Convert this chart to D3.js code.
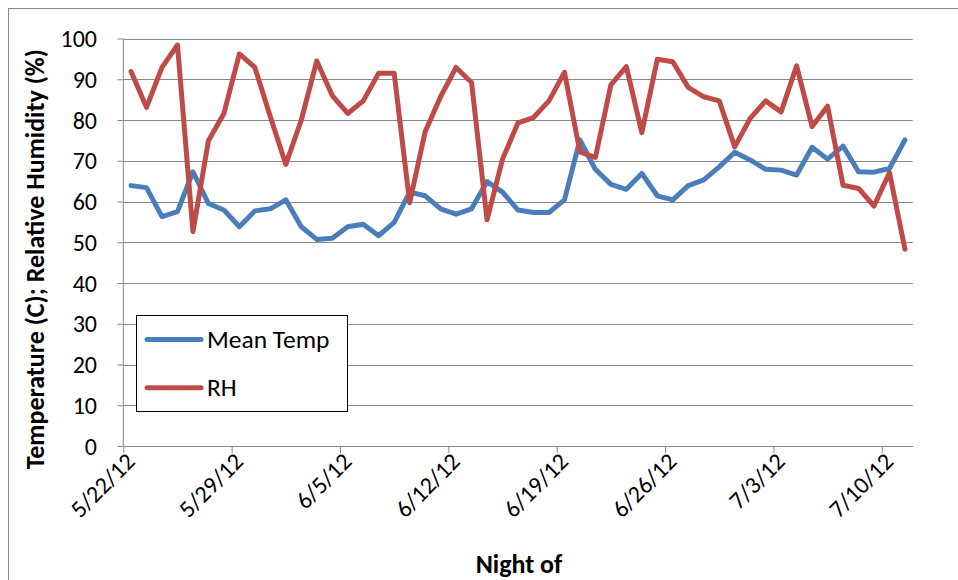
<!DOCTYPE html>
<html>
<head>
<meta charset="utf-8">
<script src="https://cdn.jsdelivr.net/npm/d3@7"></script>
<style>
    body { margin: 0; background: #fff; }
    svg { display: block; font-family: Calibri, Carlito, Lato, sans-serif; }
    .grid line { stroke: #888; stroke-width: 1; }
    .tick-label { font-size: 24px; fill: #000; }
    .legend-label { font-size: 25.5px; fill: #000; }
    .axis-title { font-size: 26px; font-weight: bold; fill: #000; }
    .series { fill: none; stroke-width: 5; stroke-linejoin: round; stroke-linecap: round; }
</style>
</head>
<body>
<svg width="958" height="580"></svg>
<script>
'use strict';

///////////////////////////// data ///////////////////////////
var START_DATE = '5/22/12';
var END_DATE = '7/12/12'; // axis ends after the last night
var TICK_LABELS = ['5/22/12', '5/29/12', '6/5/12', '6/12/12', '6/19/12', '6/26/12', '7/3/12', '7/10/12'];
var Y_TICKS = [0, 10, 20, 30, 40, 50, 60, 70, 80, 90, 100];
var SERIES_NAMES = ['Mean Temp', 'RH'];

// one value per night, 5/22/12 .. 7/11/12
var meanTemp = [63.9, 63.4, 56.3, 57.5, 67.3, 59.5, 57.9, 53.8, 57.7, 58.2,
                60.4, 53.8, 50.7, 51.0, 53.8, 54.4, 51.6, 54.9, 62.3, 61.4,
                58.2, 56.9, 58.2, 64.9, 62.3, 57.9, 57.3, 57.3, 60.4, 75.1,
                67.9, 64.2, 63.0, 66.9, 61.4, 60.4, 63.9, 65.3, 68.5, 72.1,
                70.2, 67.9, 67.7, 66.5, 73.3, 70.4, 73.6, 67.3, 67.2, 68.1, 75.1];
var rh = [91.9, 83.1, 92.9, 98.4, 52.6, 74.9, 81.6, 96.2, 92.9, 80.8,
          69.1, 80.0, 94.5, 86.0, 81.6, 84.7, 91.5, 91.5, 59.7, 77.1,
          85.7, 92.9, 89.2, 55.5, 70.4, 79.3, 80.6, 84.7, 91.7, 72.2,
          70.8, 88.6, 93.1, 76.9, 94.9, 94.3, 88.0, 85.7, 84.7, 73.4,
          80.4, 84.7, 82.0, 93.3, 78.4, 83.4, 64.0, 63.2, 58.9, 67.1, 48.3];
var COLORS = ['#4A7EBB', '#BE4B48'];

///////////////////////////// set up ///////////////////////////
var svg = d3.select('svg');
var plot = {left: 123.3, right: 912.7, top: 38.5, bottom: 446};
var parseDate = d3.timeParse('%m/%d/%y');
var fmt = d3.timeFormat('%-m/%-d/%y');

var x = d3.scaleTime()
    .domain([parseDate(START_DATE), parseDate(END_DATE)])
    .range([plot.left, plot.right]);
var y = d3.scaleLinear()
    .domain([0, 100])
    .range([plot.bottom, plot.top]);

// nights, plotted at the middle of each day
var nights = meanTemp.map(function(d, i) {
    return d3.timeHour.offset(d3.timeDay.offset(parseDate(START_DATE), i), 12);
});
var series = [meanTemp, rh].map(function(vals, k) {
    return {
        name: SERIES_NAMES[k],
        color: COLORS[k],
        values: vals.map(function(v, i) { return {date: nights[i], value: v}; })
    };
});

// chart border (only top and left are in frame)
svg.append('rect')
    .attr('x', 8.5).attr('y', 8.5)
    .attr('width', 1000).attr('height', 1000)
    .attr('fill', 'none')
    .attr('stroke', '#888');

// gridlines
svg.append('g').attr('class', 'grid')
    .selectAll('line')
    .data(Y_TICKS.slice(1))
    .enter().append('line')
    .attr('x1', plot.left).attr('x2', plot.right)
    .attr('y1', function(d) { return Math.round(y(d)) + 0.5; })
    .attr('y2', function(d) { return Math.round(y(d)) + 0.5; });

// y axis
var yAxis = svg.append('g')
    .attr('transform', 'translate(' + plot.left + ',0)')
    .call(d3.axisLeft(y).tickValues(Y_TICKS).tickSize(6).tickFormat(''));
yAxis.selectAll('line, path').attr('stroke', '#888');
yAxis.select('.domain').attr('d', 'M0,' + plot.top + 'V' + plot.bottom);

svg.append('g').selectAll('text')
    .data(Y_TICKS)
    .enter().append('text')
    .attr('class', 'tick-label')
    .attr('text-anchor', 'end')
    .attr('x', 97)
    .attr('y', function(d) { return y(d) + 8.5; })
    .text(function(d) { return d; });

// x axis
var tickDates = TICK_LABELS.map(parseDate);
var xAxis = svg.append('g')
    .attr('transform', 'translate(0,' + plot.bottom + ')')
    .call(d3.axisBottom(x).tickValues(tickDates).tickSize(7).tickSizeOuter(0).tickFormat(''));
xAxis.selectAll('line, path').attr('stroke', '#888');

svg.append('g').selectAll('text')
    .data(tickDates)
    .enter().append('text')
    .attr('class', 'tick-label')
    .attr('text-anchor', 'end')
    .attr('transform', function(d) {
        return 'translate(' + (x(d) + 13) + ',' + (plot.bottom + 17) + ') rotate(-45)';
    })
    .text(function(d) { return fmt(d); });

// axis titles
svg.append('text')
    .attr('class', 'axis-title')
    .attr('text-anchor', 'middle')
    .attr('transform', 'translate(44,' + ((plot.top + plot.bottom) / 2 + 17) + ') rotate(-90)')
    .text('Temperature (C); Relative Humidity (%)');
svg.append('text')
    .attr('class', 'axis-title')
    .attr('text-anchor', 'middle')
    .attr('x', 519)
    .attr('y', 573)
    .text('Night of');

// lines
var line = d3.line()
    .x(function(d) { return x(d.date); })
    .y(function(d) { return y(d.value); });

svg.append('g').selectAll('path')
    .data(series)
    .enter().append('path')
    .attr('class', 'series')
    .attr('stroke', function(d) { return d.color; })
    .attr('d', function(d) { return line(d.values); });

// legend
var legend = svg.append('g');
legend.append('rect')
    .attr('x', 136.5).attr('y', 315.5)
    .attr('width', 211).attr('height', 96)
    .attr('fill', '#fff')
    .attr('stroke', '#000');
var items = legend.selectAll('.item')
    .data(series)
    .enter().append('g')
    .attr('class', 'item')
    .attr('transform', function(d, i) { return 'translate(0,' + (339.5 + i * 48.3) + ')'; });
items.append('line')
    .attr('x1', 147).attr('x2', 201)
    .attr('stroke', function(d) { return d.color; })
    .attr('stroke-width', 5)
    .attr('stroke-linecap', 'round');
items.append('text')
    .attr('class', 'legend-label')
    .attr('x', 207)
    .attr('y', 8.5)
    .text(function(d) { return d.name; });
</script>
</body>
</html>
